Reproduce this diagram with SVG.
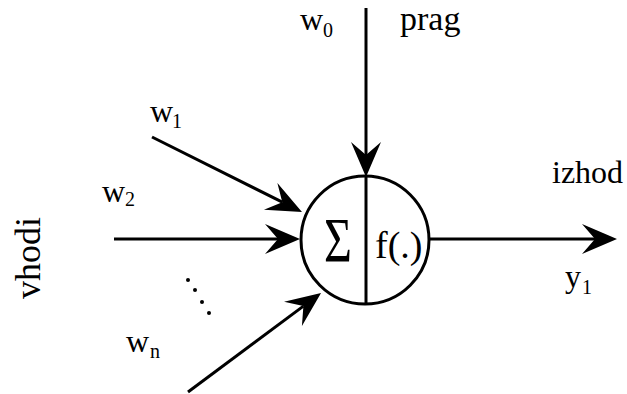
<svg xmlns="http://www.w3.org/2000/svg" width="627" height="394" viewBox="0 0 627 394">
<style>
text{font-family:"Liberation Serif","Times New Roman",serif;fill:#000}
.lbl{font-size:32px}
.sub{font-size:20px}
.edge{stroke:#000;stroke-width:3;fill:none}
</style>
<defs>
<marker id="ah" markerUnits="userSpaceOnUse" orient="auto" refX="0" refY="0" markerWidth="40" markerHeight="40" overflow="visible">
<path d="M22,0 L-13,-15 L0,0 L-13,15 Z" fill="#000"/>
</marker>
</defs>
<rect width="627" height="394" fill="#fff"/>
<g id="connectors">
<line class="edge" x1="366" y1="8" x2="366" y2="155" marker-end="url(#ah)"/>
<line class="edge" x1="152" y1="137" x2="282.3" y2="202.2" marker-end="url(#ah)"/>
<line class="edge" x1="114" y1="239" x2="278" y2="239" marker-end="url(#ah)"/>
<line class="edge" x1="188" y1="392" x2="303.4" y2="306.1" marker-end="url(#ah)"/>
<line class="edge" x1="429" y1="239" x2="595" y2="239" marker-end="url(#ah)"/>
</g>
<g id="neuron">
<circle cx="365" cy="240" r="64" fill="none" stroke="#000" stroke-width="3"/>
<line x1="366" y1="176" x2="366" y2="304" stroke="#000" stroke-width="3"/>
<text transform="translate(338,262) scale(1,1.3)" font-size="48" text-anchor="middle">Σ</text>
<text x="375" y="258" font-size="38">f(.)</text>
</g>
<g id="labels">
<text class="lbl" x="300" y="30">w</text><text class="sub" x="323" y="37">0</text>
<text x="400" y="30" font-size="34">prag</text>
<text class="lbl" x="150" y="122">w</text><text class="sub" x="172" y="128">1</text>
<text class="lbl" x="102" y="202">w</text><text class="sub" x="125" y="206">2</text>
<text class="lbl" x="126" y="352">w</text><text class="sub" x="150" y="358">n</text>
<text class="lbl" x="552" y="183">izhod</text>
<text class="lbl" x="565" y="287">y</text><text class="sub" x="582" y="294">1</text>
<text transform="translate(40,258) rotate(-90)" font-size="36" text-anchor="middle">vhodi</text>
</g>
<g id="dots" fill="#000">
<circle cx="188" cy="280" r="2"/>
<circle cx="195" cy="290" r="2"/>
<circle cx="202" cy="302" r="2"/>
<circle cx="209" cy="313" r="2"/>
</g>
</svg>
